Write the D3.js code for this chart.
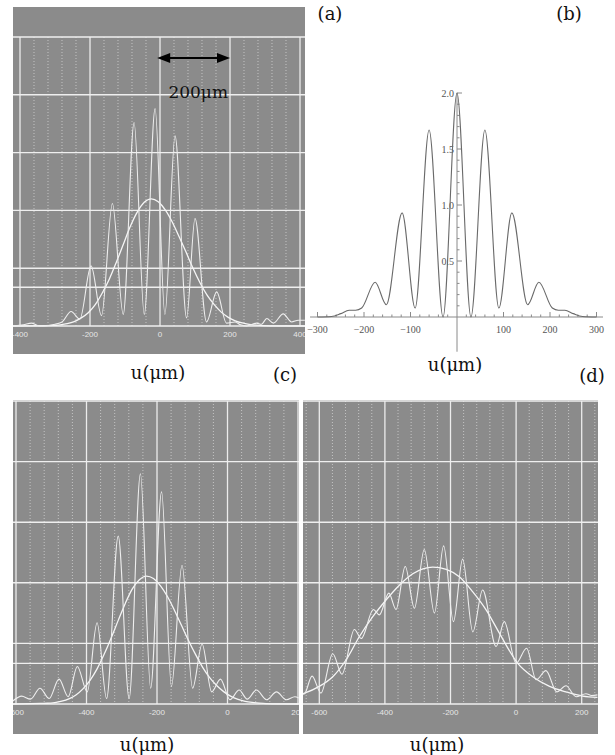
<!DOCTYPE html>
<html>
<head>
<meta charset="utf-8">
<script src="https://cdnjs.cloudflare.com/ajax/libs/d3/7.8.5/d3.min.js"></script>
<style>
  body { margin: 0; background: #fff; }
  svg { display: block; }
</style>
</head>
<body>
<svg id="fig" width="615" height="755"></svg>
<script>
// values: u in µm, intensity in screen divisions (a, c, d)

// (a) measured profile and gaussian fit
var profileA = [[-420,0.0],[-390,0.02],[-367,0.05],[-350,0.01],[-334,0.0],[-300,0.03],[-280,0.07],[-254,0.25],
  [-229,0.12],[-197,1.04],[-167,0.18],[-136,2.12],[-105,0.2],[-74,3.52],[-45,0.2],[-14,3.76],[14,0.2],
  [43,3.29],[76,0.14],[100,1.86],[133,0.07],[162,0.59],[190,0.05],[214,0.07],[230,0.02],[248,0.0],
  [276,0.05],[290,0.03],[305,0.13],[324,0.05],[352,0.21],[376,0.07],[395,0.1],[414,0.1]];
var fitA = [[-420,0.0],[-305,0.01],[-285,0.02],[-265,0.04],[-245,0.077],[-225,0.14],[-205,0.23],[-185,0.37],
  [-165,0.57],[-145,0.81],[-125,1.10],[-105,1.41],[-85,1.72],[-65,1.97],[-45,2.14],[-25,2.2],[-5,2.15],
  [15,2.01],[35,1.80],[55,1.54],[75,1.27],[95,0.99],[115,0.74],[135,0.53],[155,0.37],[175,0.24],
  [195,0.15],[215,0.09],[235,0.052],[255,0.029],[275,0.015],[295,0.008],[414,0.0]];
var ticksA = [-400, -200, 0, 200, 400];

// (b) computed intensity
var profileB = [[-300,0.0],[-270,0.005],[-250,0.03],[-232,0.06],[-218,0.06],[-205,0.08],[-176,0.31],
  [-152,0.11],[-118,0.93],[-90,0.08],[-60,1.67],[-30,0.0],[0,2.0],[30,0.0],[60,1.67],[90,0.08],
  [118,0.93],[152,0.11],[176,0.31],[205,0.08],[218,0.06],[232,0.06],[250,0.03],[270,0.005],[300,0.0]];
var ticksBX = [-300, -200, -100, 100, 200, 300];
var ticksBY = [0.5, 1.0, 1.5, 2.0];

// (c)
var profileC = [[-609,0.05],[-584,0.13],[-559,0.08],[-532,0.26],[-506,0.09],[-478,0.41],[-452,0.12],
  [-426,0.62],[-398,0.2],[-370,1.34],[-343,0.09],[-310,2.77],[-279,0.09],[-247,3.80],[-218,0.26],
  [-187,3.50],[-159,0.29],[-129,2.29],[-99,0.26],[-72,0.99],[-45,0.2],[-20,0.41],[7,0.07],[33,0.23],
  [56,0.08],[82,0.23],[111,0.07],[139,0.2],[167,0.07],[191,0.12],[202,0.1]];
var fitC = [[-609,0.0],[-530,0.01],[-510,0.012],[-490,0.024],[-470,0.047],[-450,0.086],[-430,0.15],
  [-410,0.25],[-390,0.39],[-370,0.58],[-350,0.82],[-330,1.09],[-310,1.38],[-290,1.66],[-270,1.90],
  [-250,2.05],[-230,2.11],[-210,2.07],[-190,1.95],[-170,1.77],[-150,1.54],[-130,1.29],[-110,1.04],
  [-90,0.81],[-70,0.60],[-50,0.43],[-30,0.30],[-10,0.20],[10,0.125],[30,0.077],[50,0.045],[70,0.026],
  [90,0.014],[110,0.007],[202,0.0]];
var ticksC = [-600, -400, -200, 0, 200];

// (d)
var profileD = [[-651,0.16],[-645,0.17],[-622,0.46],[-595,0.18],[-559,0.83],[-531,0.49],[-493,1.23],
  [-472,1.08],[-435,1.56],[-417,1.47],[-388,1.83],[-366,1.56],[-338,2.27],[-310,1.58],[-280,2.55],
  [-249,1.50],[-221,2.61],[-191,1.36],[-163,2.39],[-132,1.19],[-102,1.88],[-61,0.95],[-36,1.36],
  [0,0.67],[32,0.92],[61,0.40],[91,0.55],[124,0.20],[152,0.30],[183,0.12],[213,0.17],[230,0.14],[248,0.15]];
var fitD = [[-651,0.17],[-645,0.18],[-600,0.29],[-559,0.45],[-518,0.73],[-478,1.11],[-437,1.44],
  [-396,1.72],[-356,1.96],[-315,2.15],[-254,2.26],[-213,2.22],[-173,2.10],[-132,1.85],[-91,1.55],
  [-51,1.17],[5,0.67],[51,0.45],[102,0.29],[152,0.20],[203,0.13],[248,0.11]];
var ticksD = [-600, -400, -200, 0, 200];

var levelMark = 0.67;   // extra horizontal marker line on the beam screens

var svg = d3.select("#fig");
var serif = "'DejaVu Serif', 'Liberation Serif', serif";

function screen(id, box, x, y, ticks, profile, fit, strip) {
  var g = svg.append("g");
  g.append("clipPath").attr("id", id)
    .append("rect").attr("x", box.left).attr("y", box.top)
    .attr("width", box.right - box.left).attr("height", box.bottom - box.top);
  var p = g.append("g").attr("clip-path", "url(#" + id + ")");

  p.append("rect")
    .attr("x", box.left).attr("y", box.top)
    .attr("width", box.right - box.left).attr("height", box.bottom - box.top)
    .attr("fill", "#8b8b8b");

  var u0 = x.invert(box.left), u1 = x.invert(box.right);
  var minor = d3.range(Math.ceil(u0 / 40) * 40, u1, 40).filter(function(d) { return d % 200 != 0; });

  p.selectAll(".minor").data(minor).enter().append("line")
    .attr("x1", function(d) { return x(d); }).attr("x2", function(d) { return x(d); })
    .attr("y1", y(5)).attr("y2", y(0))
    .attr("stroke", "#c4c4c4").attr("stroke-width", 1)
    .attr("stroke-dasharray", "1,2");

  p.selectAll(".major").data(ticks).enter().append("line")
    .attr("x1", function(d) { return x(d); }).attr("x2", function(d) { return x(d); })
    .attr("y1", y(5)).attr("y2", y(0))
    .attr("stroke", "#ececec").attr("stroke-width", 1.3);

  p.selectAll(".hline").data([0, levelMark, 1, 2, 3, 4, 5]).enter().append("line")
    .attr("x1", box.left).attr("x2", box.right)
    .attr("y1", function(d) { return y(d); }).attr("y2", function(d) { return y(d); })
    .attr("stroke", "#efefef").attr("stroke-width", 1.4);

  var line = d3.line()
    .x(function(d) { return x(d[0]); })
    .y(function(d) { return y(d[1]); })
    .curve(d3.curveMonotoneX);

  p.append("path").datum(fit).attr("d", line)
    .attr("fill", "none").attr("stroke", "#f6f6f6").attr("stroke-width", 1.3);
  p.append("path").datum(profile).attr("d", line)
    .attr("fill", "none").attr("stroke", "#eeeeee").attr("stroke-width", 1.1);

  p.selectAll(".tl").data(ticks).enter().append("text")
    .attr("x", function(d) { return x(d); })
    .attr("y", y(0) + 11)
    .attr("text-anchor", "middle")
    .style("font-family", "'Liberation Sans', Arial, sans-serif")
    .style("font-size", "8px")
    .attr("fill", "#e6e6e6")
    .text(function(d) { return d; });
  return g;
}

// (a)
var xA = d3.scaleLinear().domain([-400, 400]).range([20, 300]);
var yA = d3.scaleLinear().domain([0, 5]).range([326, 37]);
var gA = screen("clipA", {left: 13, right: 305, top: 7, bottom: 354}, xA, yA, ticksA, profileA, fitA);

// scale arrow, 0 to 200 µm
var ay = 58;
gA.append("line").attr("x1", xA(-8) + 10).attr("x2", xA(200) - 10)
  .attr("y1", ay).attr("y2", ay).attr("stroke", "#000").attr("stroke-width", 2);
gA.append("path")
  .attr("d", "M" + xA(-8) + "," + ay + "L" + (xA(-8) + 13) + "," + (ay - 5) + "L" + (xA(-8) + 13) + "," + (ay + 5) + "Z")
  .attr("fill", "#000");
gA.append("path")
  .attr("d", "M" + xA(200) + "," + ay + "L" + (xA(200) - 13) + "," + (ay - 5) + "L" + (xA(200) - 13) + "," + (ay + 5) + "Z")
  .attr("fill", "#000");
gA.append("text").attr("x", xA(24)).attr("y", 98)
  .style("font-family", serif).style("font-size", "17px").attr("fill", "#111")
  .text("200μm");

// (c) and (d)
var yCD = d3.scaleLinear().domain([0, 5]).range([704, 401]);
var xC = d3.scaleLinear().domain([-600, 200]).range([16, 298]);
screen("clipC", {left: 13, right: 299, top: 400, bottom: 734}, xC, yCD, ticksC, profileC, fitC);
var xD = d3.scaleLinear().domain([-600, 200]).range([319.3, 581.7]);
screen("clipD", {left: 303, right: 598, top: 400, bottom: 734}, xD, yCD, ticksD, profileD, fitD);

// (b) plot with Mathematica-like axes
var xB = d3.scaleLinear().domain([-300, 300]).range([317.5, 596.5]);
var yB = d3.scaleLinear().domain([0, 2]).range([317, 93]);
var gB = svg.append("g");
var axisCol = "#8a8a8a";

gB.append("line").attr("x1", xB(-316)).attr("x2", xB(314))
  .attr("y1", yB(0)).attr("y2", yB(0)).attr("stroke", axisCol).attr("stroke-width", 1);
gB.append("line").attr("x1", xB(0)).attr("x2", xB(0))
  .attr("y1", yB(-0.31)).attr("y2", yB(2)).attr("stroke", axisCol).attr("stroke-width", 1);

var minorX = d3.range(-300, 301, 20).filter(function(d) { return d % 100 != 0; });
gB.selectAll(".mxt").data(minorX).enter().append("line")
  .attr("x1", function(d) { return xB(d); }).attr("x2", function(d) { return xB(d); })
  .attr("y1", yB(0)).attr("y2", yB(0) - 2.5).attr("stroke", axisCol);
gB.selectAll(".xt").data(ticksBX).enter().append("line")
  .attr("x1", function(d) { return xB(d); }).attr("x2", function(d) { return xB(d); })
  .attr("y1", yB(0)).attr("y2", yB(0) - 5).attr("stroke", axisCol);
gB.selectAll(".xl").data(ticksBX).enter().append("text")
  .attr("x", function(d) { return xB(d); }).attr("y", yB(0) + 16)
  .attr("text-anchor", "middle")
  .style("font-family", "'Liberation Serif', serif").style("font-size", "10px")
  .attr("fill", "#555")
  .text(function(d) { return d < 0 ? "\u2212" + (-d) : d; });

var minorY = d3.range(0.1, 2.0, 0.1).filter(function(d) { return Math.abs(d * 2 - Math.round(d * 2)) > 0.01; });
gB.selectAll(".myt").data(minorY).enter().append("line")
  .attr("x1", xB(0)).attr("x2", xB(0) + 2.5)
  .attr("y1", function(d) { return yB(d); }).attr("y2", function(d) { return yB(d); })
  .attr("stroke", axisCol);
gB.selectAll(".yt").data(ticksBY).enter().append("line")
  .attr("x1", xB(0)).attr("x2", xB(0) + 5)
  .attr("y1", function(d) { return yB(d); }).attr("y2", function(d) { return yB(d); })
  .attr("stroke", axisCol);
gB.selectAll(".yl").data(ticksBY).enter().append("text")
  .attr("x", xB(0) - 3).attr("y", function(d) { return yB(d) + 3.5; })
  .attr("text-anchor", "end")
  .style("font-family", "'Liberation Serif', serif").style("font-size", "10px")
  .attr("fill", "#555")
  .text(function(d) { return d.toFixed(1); });

gB.append("path").datum(profileB)
  .attr("d", d3.line().x(function(d) { return xB(d[0]); }).y(function(d) { return yB(d[1]); }).curve(d3.curveMonotoneX))
  .attr("fill", "none").attr("stroke", "#6a6a6a").attr("stroke-width", 1.1);

// panel letters and axis titles
var labels = [
  {t: "(a)", x: 330, y: 20}, {t: "(b)", x: 569, y: 20},
  {t: "(c)", x: 285, y: 381}, {t: "(d)", x: 592, y: 382},
  {t: "u(μm)", x: 158, y: 379}, {t: "u(μm)", x: 455, y: 371},
  {t: "u(μm)", x: 147, y: 751}, {t: "u(μm)", x: 437, y: 751}
];
svg.selectAll(".lab").data(labels).enter().append("text")
  .attr("x", function(d) { return d.x; }).attr("y", function(d) { return d.y; })
  .attr("text-anchor", "middle")
  .style("font-family", serif).style("font-size", "18px")
  .attr("fill", "#111")
  .text(function(d) { return d.t; });
</script>
</body>
</html>
